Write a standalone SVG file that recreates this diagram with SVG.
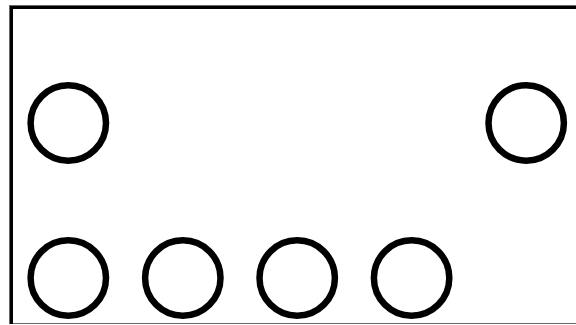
<svg xmlns="http://www.w3.org/2000/svg" width="576" height="325" viewBox="0 0 576 325">
<style>
.node{fill:none;stroke:#000;stroke-width:6.5}
.frame{fill:none;stroke:#666;stroke-width:1}
.edge{stroke:#000;stroke-width:3;fill:none}
</style>
<rect width="576" height="325" fill="#fff"/>
<rect class="frame" x="9.5" y="5.5" width="580" height="318"/>
<path class="edge" d="M11.5 324 V7.5 H580"/>
<g id="n1"><circle class="node" cx="68.3" cy="123" r="37.7"/></g>
<g id="n2"><circle class="node" cx="526.2" cy="123" r="37.7"/></g>
<g id="n3"><circle class="node" cx="68.3" cy="278" r="37.7"/></g>
<g id="n4"><circle class="node" cx="182.8" cy="278" r="37.7"/></g>
<g id="n5"><circle class="node" cx="297.2" cy="278" r="37.7"/></g>
<g id="n6"><circle class="node" cx="411.6" cy="278" r="37.7"/></g>
<g id="connectors"></g>
</svg>
